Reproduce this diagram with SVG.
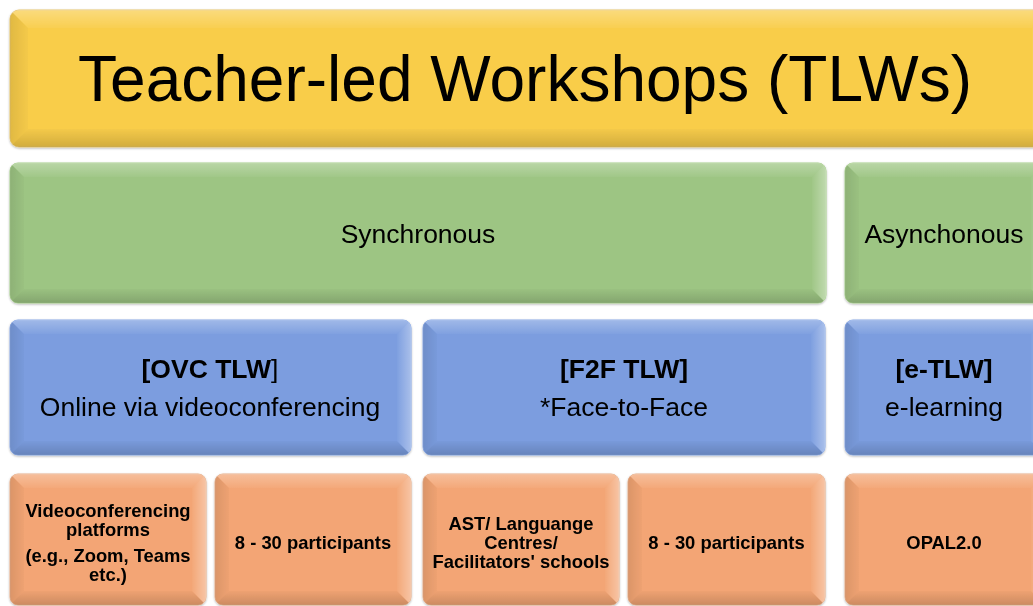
<svg xmlns="http://www.w3.org/2000/svg" width="1033" height="606" viewBox="0 0 1033 606">
<style>
  text { font-family: "Liberation Sans", Arial, sans-serif; fill: #000; text-anchor: middle; }
  .t1 { font-size: 64px; }
  .t2 { font-size: 26.5px; }
  .b { font-weight: bold; }
  .n { font-weight: normal; }
  .t3 { font-size: 18.4px; font-weight: bold; }
  .yellow .face { fill: #f9cd4a; stroke: #e9c870; }
  .green .face { fill: #9dc583; stroke: #a9d08e; }
  .blue .face { fill: #7b9ddf; stroke: #8aaae6; }
  .orange .face { fill: #f3a574; stroke: #eab08a; }
  .face { stroke-width: 1; }
  .bt { fill: url(#gT); }
  .bl { fill: url(#gL); }
  .bb { fill: url(#gB); }
  .br { fill: url(#gR); }
  .node { filter: url(#sh); }
</style>
<defs>
  <linearGradient id="gT" x1="0" y1="0" x2="0" y2="1">
    <stop offset="0" stop-color="#fff" stop-opacity="0.28"/>
    <stop offset="1" stop-color="#fff" stop-opacity="0.04"/>
  </linearGradient>
  <linearGradient id="gB" x1="0" y1="1" x2="0" y2="0">
    <stop offset="0" stop-color="#000" stop-opacity="0.16"/>
    <stop offset="1" stop-color="#000" stop-opacity="0.02"/>
  </linearGradient>
  <linearGradient id="gL" x1="0" y1="0" x2="1" y2="0">
    <stop offset="0" stop-color="#000" stop-opacity="0.10"/>
    <stop offset="1" stop-color="#000" stop-opacity="0.02"/>
  </linearGradient>
  <linearGradient id="gR" x1="1" y1="0" x2="0" y2="0">
    <stop offset="0" stop-color="#fff" stop-opacity="0.35"/>
    <stop offset="1" stop-color="#fff" stop-opacity="0.03"/>
  </linearGradient>
  <filter id="sh" x="-5%" y="-10%" width="110%" height="120%">
    <feDropShadow dx="0" dy="1" stdDeviation="1.3" flood-color="#000" flood-opacity="0.28"/>
  </filter>
  <clipPath id="c-title"><rect x="10" y="10" width="1040" height="137" rx="9"/></clipPath>
  <clipPath id="c-sync"><rect x="10" y="163" width="816" height="140" rx="8"/></clipPath>
  <clipPath id="c-async"><rect x="845" y="163" width="200" height="140" rx="8"/></clipPath>
  <clipPath id="c-ovc"><rect x="10" y="320" width="401" height="135" rx="8"/></clipPath>
  <clipPath id="c-f2f"><rect x="423" y="320" width="402" height="135" rx="8"/></clipPath>
  <clipPath id="c-etlw"><rect x="845" y="320" width="200" height="135" rx="8"/></clipPath>
  <clipPath id="c-o1"><rect x="10" y="474" width="196" height="131" rx="8"/></clipPath>
  <clipPath id="c-o2"><rect x="215" y="474" width="196" height="131" rx="8"/></clipPath>
  <clipPath id="c-o3"><rect x="423" y="474" width="196" height="131" rx="8"/></clipPath>
  <clipPath id="c-o4"><rect x="628" y="474" width="197" height="131" rx="8"/></clipPath>
  <clipPath id="c-o5"><rect x="845" y="474" width="200" height="131" rx="8"/></clipPath>
</defs>
<rect width="1033" height="606" fill="#ffffff"/>

<g id="connectors"></g>

<g id="title" class="node yellow">
  <rect class="face" x="10" y="10" width="1040" height="137" rx="9"/>
  <g clip-path="url(#c-title)">
    <polygon class="bt" points="10,10 1050,10 1032,28 28,28"/>
    <polygon class="bl" points="10,10 28,28 28,129 10,147"/>
    <polygon class="bb" points="10,147 28,129 1032,129 1050,147"/>
    <polygon class="br" points="1050,10 1050,147 1032,129 1032,28"/>
  </g>
  <text class="t1" x="525" y="101">Teacher-led Workshops (TLWs)</text>
</g>

<g id="sync" class="node green">
  <rect class="face" x="10" y="163" width="816" height="140" rx="8"/>
  <g clip-path="url(#c-sync)">
    <polygon class="bt" points="10,163 826,163 812,177 24,177"/>
    <polygon class="bl" points="10,163 24,177 24,289 10,303"/>
    <polygon class="bb" points="10,303 24,289 812,289 826,303"/>
    <polygon class="br" points="826,163 826,303 812,289 812,177"/>
  </g>
  <text class="t2" x="418" y="243">Synchronous</text>
</g>

<g id="async" class="node green">
  <rect class="face" x="845" y="163" width="200" height="140" rx="8"/>
  <g clip-path="url(#c-async)">
    <polygon class="bt" points="845,163 1045,163 1031,177 859,177"/>
    <polygon class="bl" points="845,163 859,177 859,289 845,303"/>
    <polygon class="bb" points="845,303 859,289 1031,289 1045,303"/>
    <polygon class="br" points="1045,163 1045,303 1031,289 1031,177"/>
  </g>
  <text class="t2" x="944" y="243">Asynchonous</text>
</g>

<g id="ovc" class="node blue">
  <rect class="face" x="10" y="320" width="401" height="135" rx="8"/>
  <g clip-path="url(#c-ovc)">
    <polygon class="bt" points="10,320 411,320 397,334 24,334"/>
    <polygon class="bl" points="10,320 24,334 24,441 10,455"/>
    <polygon class="bb" points="10,455 24,441 397,441 411,455"/>
    <polygon class="br" points="411,320 411,455 397,441 397,334"/>
  </g>
  <text class="t2" x="210" y="378"><tspan class="b">[OVC TLW</tspan><tspan class="n">]</tspan></text>
  <text class="t2" x="210" y="416">Online via videoconferencing</text>
</g>

<g id="f2f" class="node blue">
  <rect class="face" x="423" y="320" width="402" height="135" rx="8"/>
  <g clip-path="url(#c-f2f)">
    <polygon class="bt" points="423,320 825,320 811,334 437,334"/>
    <polygon class="bl" points="423,320 437,334 437,441 423,455"/>
    <polygon class="bb" points="423,455 437,441 811,441 825,455"/>
    <polygon class="br" points="825,320 825,455 811,441 811,334"/>
  </g>
  <text class="t2 b" x="624" y="378">[F2F TLW]</text>
  <text class="t2" x="624" y="416">*Face-to-Face</text>
</g>

<g id="etlw" class="node blue">
  <rect class="face" x="845" y="320" width="200" height="135" rx="8"/>
  <g clip-path="url(#c-etlw)">
    <polygon class="bt" points="845,320 1045,320 1031,334 859,334"/>
    <polygon class="bl" points="845,320 859,334 859,441 845,455"/>
    <polygon class="bb" points="845,455 859,441 1031,441 1045,455"/>
    <polygon class="br" points="1045,320 1045,455 1031,441 1031,334"/>
  </g>
  <text class="t2 b" x="944" y="378">[e-TLW]</text>
  <text class="t2" x="944" y="416">e-learning</text>
</g>

<g id="o1" class="node orange">
  <rect class="face" x="10" y="474" width="196" height="131" rx="8"/>
  <g clip-path="url(#c-o1)">
    <polygon class="bt" points="10,474 206,474 192,488 24,488"/>
    <polygon class="bl" points="10,474 24,488 24,591 10,605"/>
    <polygon class="bb" points="10,605 24,591 192,591 206,605"/>
    <polygon class="br" points="206,474 206,605 192,591 192,488"/>
  </g>
  <text class="t3" x="108" y="517">Videoconferencing</text>
  <text class="t3" x="108" y="536">platforms</text>
  <text class="t3" x="108" y="562">(e.g., Zoom, Teams</text>
  <text class="t3" x="108" y="581">etc.)</text>
</g>

<g id="o2" class="node orange">
  <rect class="face" x="215" y="474" width="196" height="131" rx="8"/>
  <g clip-path="url(#c-o2)">
    <polygon class="bt" points="215,474 411,474 397,488 229,488"/>
    <polygon class="bl" points="215,474 229,488 229,591 215,605"/>
    <polygon class="bb" points="215,605 229,591 397,591 411,605"/>
    <polygon class="br" points="411,474 411,605 397,591 397,488"/>
  </g>
  <text class="t3" x="313" y="549">8 - 30 participants</text>
</g>

<g id="o3" class="node orange">
  <rect class="face" x="423" y="474" width="196" height="131" rx="8"/>
  <g clip-path="url(#c-o3)">
    <polygon class="bt" points="423,474 619,474 605,488 437,488"/>
    <polygon class="bl" points="423,474 437,488 437,591 423,605"/>
    <polygon class="bb" points="423,605 437,591 605,591 619,605"/>
    <polygon class="br" points="619,474 619,605 605,591 605,488"/>
  </g>
  <text class="t3" x="521" y="530">AST/ Languange</text>
  <text class="t3" x="521" y="549">Centres/</text>
  <text class="t3" x="521" y="568">Facilitators' schools</text>
</g>

<g id="o4" class="node orange">
  <rect class="face" x="628" y="474" width="197" height="131" rx="8"/>
  <g clip-path="url(#c-o4)">
    <polygon class="bt" points="628,474 825,474 811,488 642,488"/>
    <polygon class="bl" points="628,474 642,488 642,591 628,605"/>
    <polygon class="bb" points="628,605 642,591 811,591 825,605"/>
    <polygon class="br" points="825,474 825,605 811,591 811,488"/>
  </g>
  <text class="t3" x="726.5" y="549">8 - 30 participants</text>
</g>

<g id="o5" class="node orange">
  <rect class="face" x="845" y="474" width="200" height="131" rx="8"/>
  <g clip-path="url(#c-o5)">
    <polygon class="bt" points="845,474 1045,474 1031,488 859,488"/>
    <polygon class="bl" points="845,474 859,488 859,591 845,605"/>
    <polygon class="bb" points="845,605 859,591 1031,591 1045,605"/>
    <polygon class="br" points="1045,474 1045,605 1031,591 1031,488"/>
  </g>
  <text class="t3" x="944" y="549">OPAL2.0</text>
</g>
</svg>
